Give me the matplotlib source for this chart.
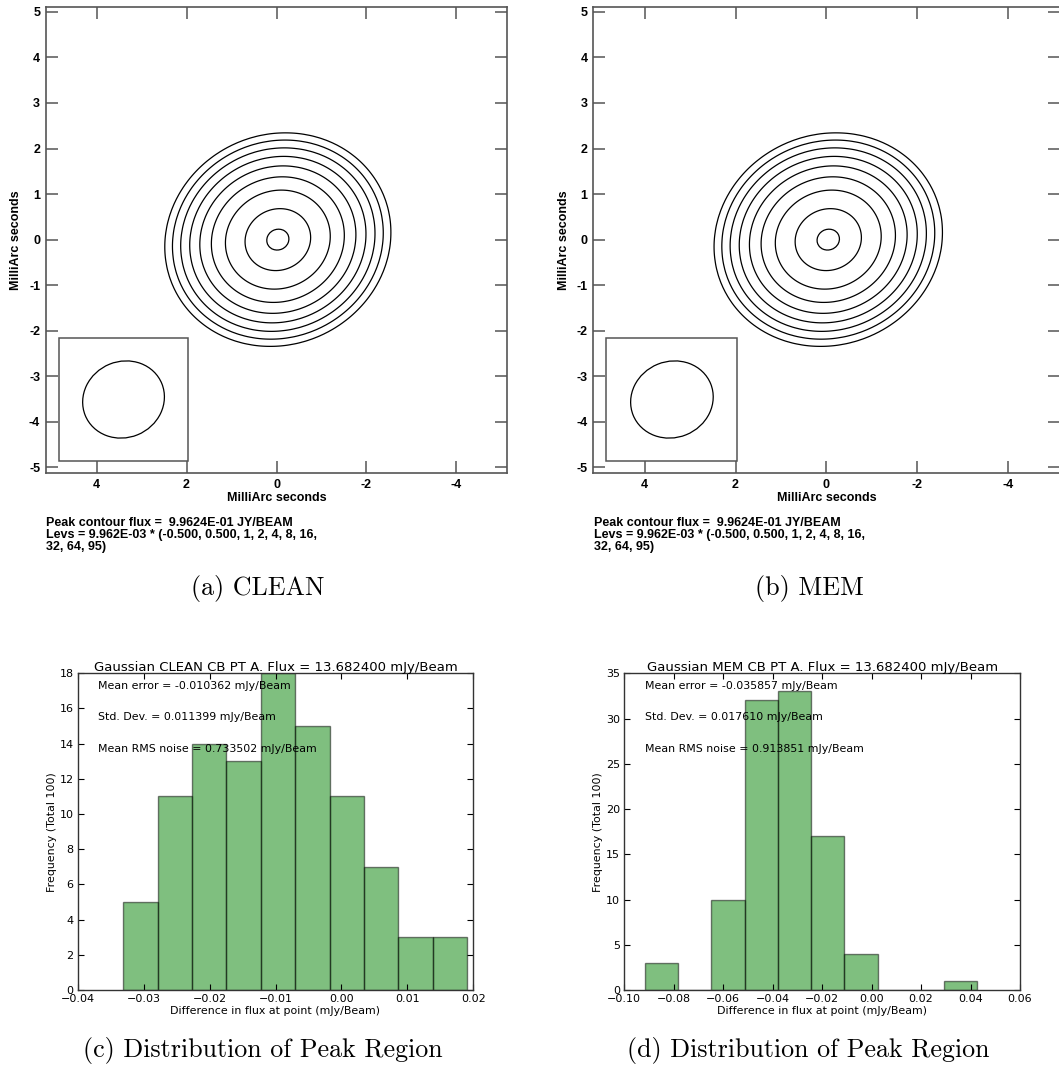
import numpy as np
import matplotlib.pyplot as plt
from matplotlib.patches import Ellipse, Rectangle

# contour maps: restored point source, peak and levels as printed by the imager
peak_flux = 0.99624              # Jy/beam
lev_base = 9.962e-03
lev_mult = [-0.5, 0.5, 1, 2, 4, 8, 16, 32, 64, 95]
beam_maj = 1.84                  # mas (FWHM)
beam_min = 1.67
beam_angle = -22                 # deg, in data coordinates
beam_pos = (3.40, -3.51)
src_pos = {"CLEAN": (-0.03, 0.0), "MEM": (-0.04, 0.0)}

# histogram panels: bin range and counts (100 trials each)
clean_range = (-0.03307, 0.01904)
clean_counts = [5, 11, 14, 13, 18, 15, 11, 7, 3, 3]
clean_stats = [-0.010362, 0.011399, 0.733502]
mem_range = (-0.09164, 0.04274)
mem_counts = [3, 0, 10, 32, 33, 17, 4, 0, 0, 1]
mem_stats = [-0.035857, 0.017610, 0.913851]
true_flux = 13.682400

fig = plt.figure(figsize=(10.59, 10.68), dpi=100)
W, H = 1059.0, 1068.0


def px_axes(left, top, right, bottom):
    return fig.add_axes([left / W, 1 - bottom / H, (right - left) / W, (bottom - top) / H])


grid = np.arange(-5.6, 5.61, 0.05)
X, Y = np.meshgrid(grid, grid)


def source_map(x0, y0):
    sx = beam_maj / 2.3548
    sy = beam_min / 2.3548
    th = np.deg2rad(beam_angle)
    u = (X - x0) * np.cos(th) + (Y - y0) * np.sin(th)
    v = -(X - x0) * np.sin(th) + (Y - y0) * np.cos(th)
    return peak_flux * np.exp(-0.5 * ((u / sx) ** 2 + (v / sy) ** 2))


bold = dict(family="Liberation Sans", weight="bold", size=9)
frame_col = "#555555"


def contour_panel(ax, name):
    levels = sorted(lev_base * m for m in lev_mult)
    Z = source_map(*src_pos[name])
    ax.contour(X, Y, Z, levels=levels, colors="black", linewidths=0.9)
    ax.add_patch(Rectangle((4.84, -4.86), -2.87, 2.71, facecolor="white",
                           edgecolor=frame_col, lw=1.1, zorder=3))
    ax.add_patch(Ellipse(beam_pos, beam_maj, beam_min, angle=beam_angle,
                         facecolor="none", edgecolor="black", lw=0.9, zorder=4))
    ax.set_xlim(5.13, -5.13)
    ax.set_ylim(-5.13, 5.1)
    xt = [4, 2, 0, -2, -4]
    yt = list(range(-5, 6))
    ax.set_xticks(xt)
    ax.set_xticklabels([str(v) for v in xt], fontdict=bold)
    ax.set_yticks(yt)
    ax.set_yticklabels([str(v) for v in yt], fontdict=bold)
    ax.tick_params(direction="in", length=8.5, width=1.1, color=frame_col,
                   top=True, right=True, pad=4)
    for s in ax.spines.values():
        s.set_color(frame_col)
        s.set_linewidth(1.2)
    ax.set_xlabel("MilliArc seconds", fontdict=bold, labelpad=1)
    ax.set_ylabel("MilliArc seconds", fontdict=bold, labelpad=5)


ax_a = px_axes(45.7, 7.3, 507.3, 473.3)
contour_panel(ax_a, "CLEAN")
ax_b = px_axes(593.3, 7.3, 1059.6, 473.3)
contour_panel(ax_b, "MEM")

lev_txt = ", ".join(f"{m:.3f}" if abs(m) < 1 else f"{m:g}" for m in lev_mult)
note = (f"Peak contour flux =  {peak_flux:.4E} JY/BEAM\n"
        f"Levs = {lev_base:.3E} * ({lev_txt[:lev_txt.index('16,') + 3]}\n"
        f"{lev_txt[lev_txt.index('16,') + 4:]})")
for x0 in (46, 594):
    fig.text(x0 / W, 1 - 517.5 / H, note, ha="left", va="top", linespacing=0.97, **bold)

hist_font = dict(family="DejaVu Sans", size=7.9)


def hist_panel(ax, rng, counts, stats, name, xlim, yticks):
    edges = np.linspace(rng[0], rng[1], len(counts) + 1)
    ax.hist(edges[:-1], bins=edges, weights=counts, color="green", alpha=0.5,
            edgecolor="black", linewidth=1.0)
    ax.set_xlim(*xlim)
    ax.set_ylim(yticks[0], yticks[-1])
    ax.set_yticks(yticks)
    ax.tick_params(direction="in", length=4, width=0.8, top=True, right=True,
                   labelsize=8, pad=3)
    for lab in ax.get_xticklabels() + ax.get_yticklabels():
        lab.set_family("DejaVu Sans")
    ax.set_title(f"Gaussian {name} CB PT A. Flux = {true_flux:f} mJy/Beam",
                 family="DejaVu Sans", size=9.5, pad=2)
    ax.set_xlabel("Difference in flux at point (mJy/Beam)", labelpad=1, **hist_font)
    ax.set_ylabel("Frequency (Total 100)", labelpad=2, **hist_font)
    lines = [f"Mean error = {stats[0]:f} mJy/Beam",
             f"Std. Dev. = {stats[1]:f} mJy/Beam",
             f"Mean RMS noise = {stats[2]:f} mJy/Beam"]
    for i, t in enumerate(lines):
        ax.text(0.052, 0.961 - 0.1 * i, t, transform=ax.transAxes,
                ha="left", va="center", **hist_font)
    for s in ax.spines.values():
        s.set_linewidth(1.0)
        s.set_color("#333333")


ax_c = px_axes(77.7, 673.3, 473.3, 990)
hist_panel(ax_c, clean_range, clean_counts, clean_stats, "CLEAN",
           (-0.04, 0.02), list(range(0, 19, 2)))
ax_d = px_axes(624.3, 673.3, 1020, 990)
hist_panel(ax_d, mem_range, mem_counts, mem_stats, "MEM",
           (-0.10, 0.06), list(range(0, 36, 5)))

caps = [("(a) CLEAN", 258, 588), ("(b) MEM", 809, 588),
        ("(c) Distribution of Peak Region", 263, 1051),
        ("(d) Distribution of Peak Region", 808, 1051)]
for txt, cx, cy in caps:
    fig.text(cx / W, 1 - cy / H, txt, ha="center", va="center",
             family="cmr10", size=18.7)

fig.savefig("out.png", dpi=100)
